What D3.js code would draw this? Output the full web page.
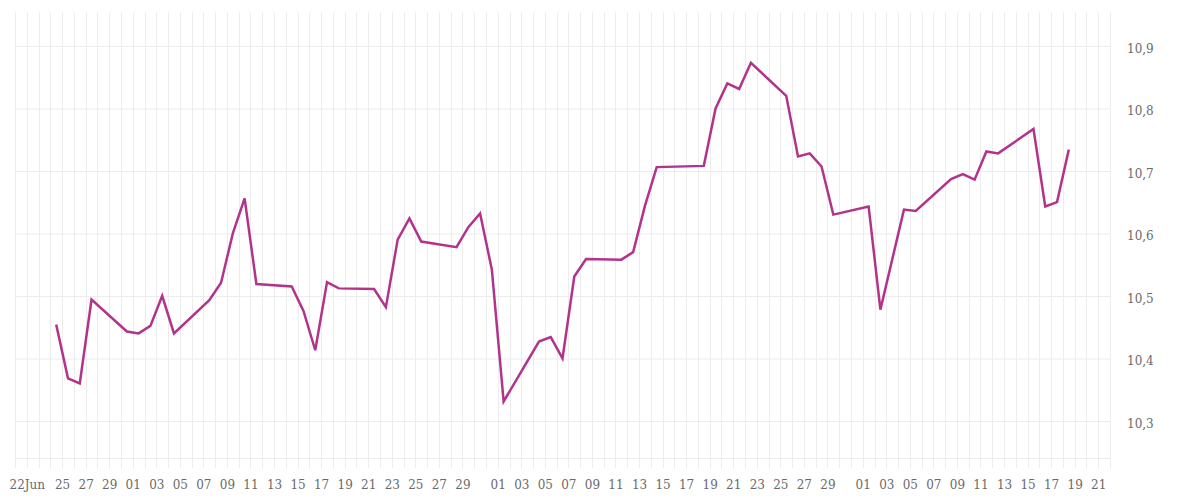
<!DOCTYPE html>
<html>
<head>
<meta charset="utf-8">
<script src="https://cdn.jsdelivr.net/npm/d3@7"></script>
<style>
  html, body { margin: 0; padding: 0; background: #fff; }
  svg { display: block; }
</style>
</head>
<body>
<svg id="chart" width="1200" height="500"></svg>
<script>
// ---- data ----
const dates = ["2025-06-24","2025-06-25","2025-06-26","2025-06-27","2025-06-30",
  "2025-07-01","2025-07-02","2025-07-03","2025-07-04","2025-07-07","2025-07-08","2025-07-09","2025-07-10","2025-07-11",
  "2025-07-14","2025-07-15","2025-07-16","2025-07-17","2025-07-18","2025-07-21","2025-07-22","2025-07-23","2025-07-24","2025-07-25",
  "2025-07-28","2025-07-29","2025-07-30","2025-07-31","2025-08-01","2025-08-04","2025-08-05","2025-08-06","2025-08-07","2025-08-08",
  "2025-08-11","2025-08-12","2025-08-13","2025-08-14","2025-08-18","2025-08-19","2025-08-20","2025-08-21","2025-08-22",
  "2025-08-25","2025-08-26","2025-08-27","2025-08-28","2025-08-29","2025-09-01","2025-09-02","2025-09-04","2025-09-05",
  "2025-09-08","2025-09-09","2025-09-10","2025-09-11","2025-09-12","2025-09-15","2025-09-16","2025-09-17","2025-09-18"];
const values = [10.455,10.369,10.361,10.495,10.444,
  10.441,10.453,10.501,10.441,10.494,10.522,10.601,10.657,10.520,
  10.516,10.477,10.414,10.523,10.513,10.512,10.483,10.591,10.625,10.588,
  10.579,10.611,10.633,10.543,10.332,10.428,10.435,10.401,10.532,10.560,
  10.559,10.571,10.645,10.707,10.709,10.801,10.841,10.832,10.874,
  10.821,10.724,10.729,10.708,10.631,10.644,10.479,10.639,10.637,
  10.688,10.696,10.687,10.732,10.729,10.768,10.644,10.651,10.735];
const xDomain = ["2025-06-21","2025-09-22"];
const xTickDates = ["2025-06-22","2025-06-25","2025-06-27","2025-06-29",
  "2025-07-01","2025-07-03","2025-07-05","2025-07-07","2025-07-09","2025-07-11","2025-07-13","2025-07-15","2025-07-17",
  "2025-07-19","2025-07-21","2025-07-23","2025-07-25","2025-07-27","2025-07-29",
  "2025-08-01","2025-08-03","2025-08-05","2025-08-07","2025-08-09","2025-08-11","2025-08-13","2025-08-15","2025-08-17",
  "2025-08-19","2025-08-21","2025-08-23","2025-08-25","2025-08-27","2025-08-29",
  "2025-09-01","2025-09-03","2025-09-05","2025-09-07","2025-09-09","2025-09-11","2025-09-13","2025-09-15","2025-09-17",
  "2025-09-19","2025-09-21"];
const yTicks = [10.3,10.4,10.5,10.6,10.7,10.8,10.9];

// ---- layout ----
const parse = d3.timeParse("%Y-%m-%d");
const plotLeft = 15.5, plotRight = 1110.5, plotTop = 12.5, plotBottom = 458.5, tickBottom = 468;
const svg = d3.select("#chart");

const x = d3.scaleTime().domain(xDomain.map(parse)).range([plotLeft, plotRight]);
const y = d3.scaleLinear().domain([10.3, 10.9]).range([421.5, 46.5]);

const locale = d3.formatLocale({decimal: ",", thousands: ".", grouping: [3], currency: ["", "€"]});
const yFmt = locale.format(".1f");
const dayFmt = d3.timeFormat("%d");
const firstFmt = d3.timeFormat("%d%b");

const gridColor = "#ececec";
const textColor = "#6a6a6a";
const font = "'DejaVu Serif', serif";

// vertical day gridlines
const days = d3.timeDay.range(x.domain()[0], d3.timeDay.offset(x.domain()[1], 1));
svg.append("g").selectAll("line").data(days).join("line")
  .attr("x1", d => Math.round(x(d) - 0.5) + 0.5)
  .attr("x2", d => Math.round(x(d) - 0.5) + 0.5)
  .attr("y1", plotTop).attr("y2", tickBottom)
  .attr("stroke", gridColor).attr("stroke-width", 1);

// horizontal gridlines
svg.append("g").selectAll("line").data(yTicks).join("line")
  .attr("x1", plotLeft).attr("x2", plotRight)
  .attr("y1", d => y(d)).attr("y2", d => y(d))
  .attr("stroke", gridColor).attr("stroke-width", 1);
svg.append("line").attr("x1", plotLeft).attr("x2", plotRight)
  .attr("y1", plotBottom).attr("y2", plotBottom)
  .attr("stroke", gridColor).attr("stroke-width", 1);

// x labels
const tickDates = xTickDates.map(parse);
svg.append("g").selectAll("text").data(tickDates).join("text")
  .attr("x", d => x(d)).attr("y", 489)
  .attr("text-anchor", "middle")
  .attr("font-family", font).attr("font-size", 12)
  .attr("fill", textColor)
  .text((d, i) => i === 0 ? firstFmt(d) : dayFmt(d));

// y labels
svg.append("g").selectAll("text").data(yTicks).join("text")
  .attr("x", 1127).attr("y", d => y(d) + 6)
  .attr("text-anchor", "start")
  .attr("font-family", font).attr("font-size", 12)
  .attr("fill", textColor)
  .text(d => yFmt(d));

// line
const pts = dates.map((d, i) => ({date: d3.timeHour.offset(parse(d), 11), value: values[i]}));
const line = d3.line().x(d => x(d.date)).y(d => y(d.value));
svg.append("path").datum(pts)
  .attr("d", line)
  .attr("fill", "none")
  .attr("stroke", "#b2338c")
  .attr("stroke-width", 2.5)
  .attr("stroke-linejoin", "miter");
</script>
</body>
</html>
